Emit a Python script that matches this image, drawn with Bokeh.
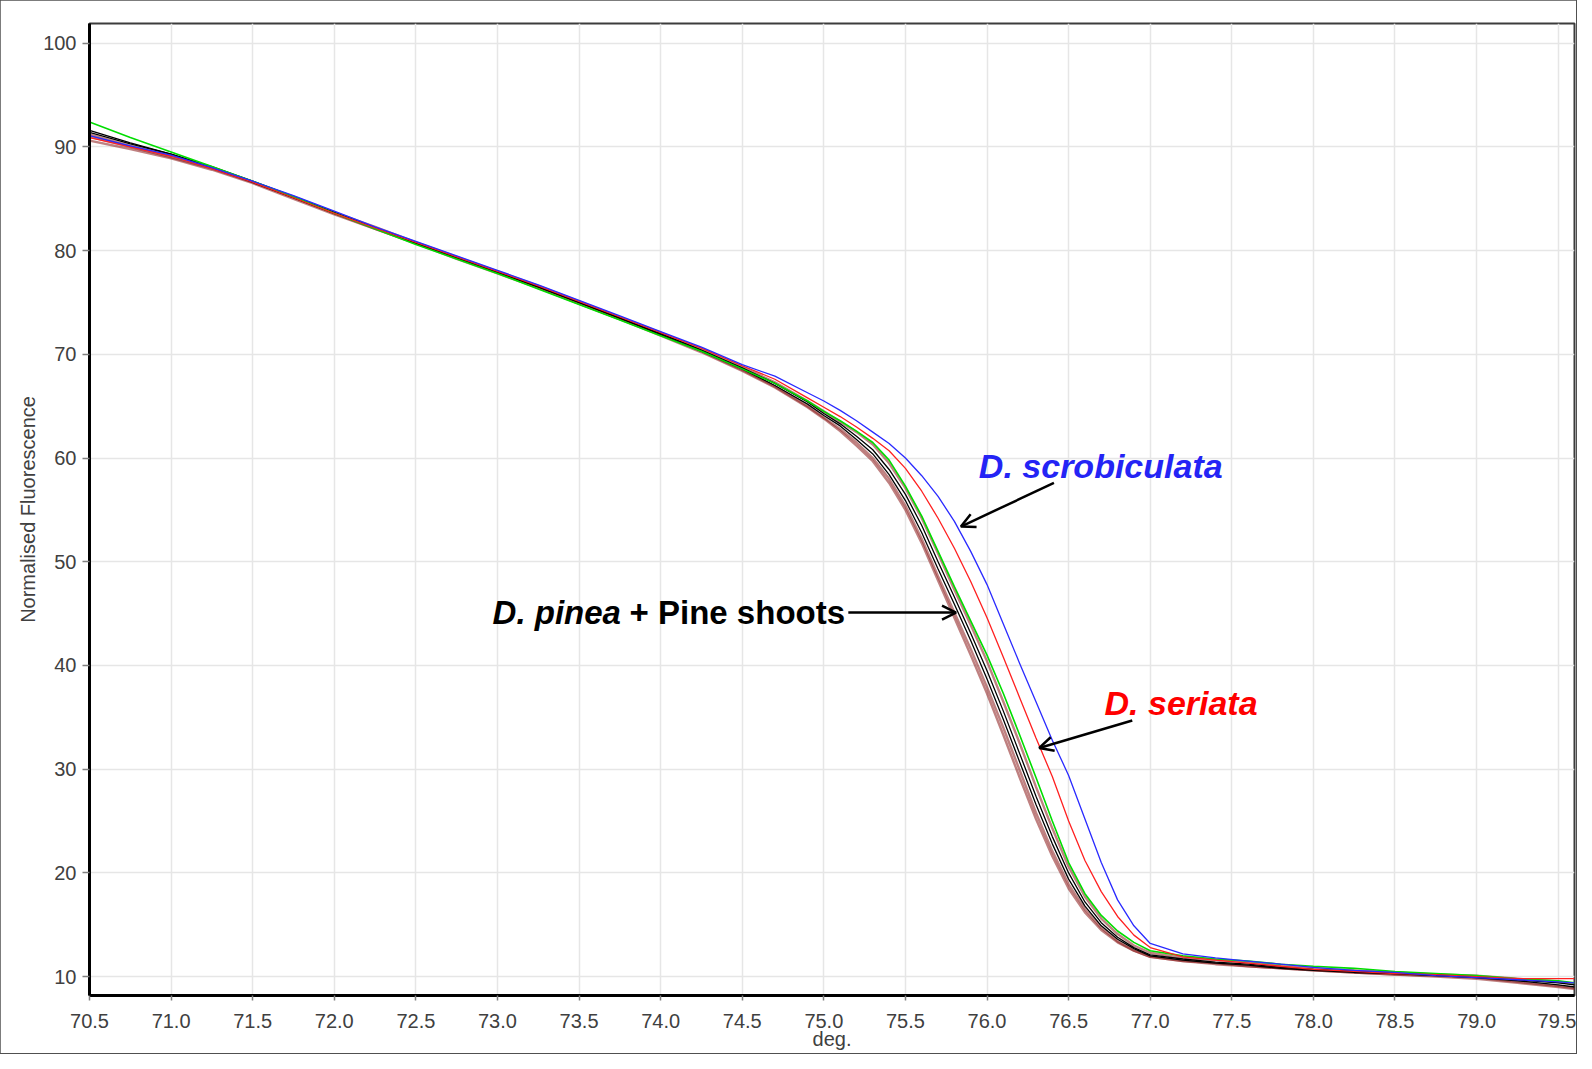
from bokeh.plotting import figure
from bokeh.models import Label, Arrow, OpenHead, FixedTicker, NumeralTickFormatter, Range1d
from bokeh.embed import file_html
from bokeh.resources import INLINE

# ---------------- data ----------------
temps = [70.5, 70.75, 71.0, 71.25, 71.5, 71.75, 72.0, 72.25, 72.5, 72.75, 73.0, 73.25,
         73.5, 73.75, 74.0, 74.25, 74.5, 74.7, 74.9, 75.0, 75.1, 75.2, 75.3, 75.4, 75.5,
         75.6, 75.7, 75.8, 75.9, 76.0, 76.1, 76.2, 76.3, 76.4, 76.5, 76.6, 76.7, 76.8,
         76.9, 77.0, 77.2, 77.4, 77.6, 77.8, 78.0, 78.25, 78.5, 78.75, 79.0, 79.25, 79.5, 79.6]

pinea_1 = [91.4, 90.3, 89.3, 88.0, 86.6, 85.1, 83.6, 82.2, 80.7, 79.3, 77.9, 76.5, 75.0, 73.5,
           72.0, 70.4, 68.7, 67.2, 65.4, 64.3, 63.3, 62.1, 60.8, 58.9, 56.5, 53.5, 50.0, 46.6,
           43.1, 39.5, 35.6, 31.5, 27.4, 23.5, 20.0, 17.2, 15.2, 13.8, 12.8, 12.1, 11.7, 11.4,
           11.2, 10.9, 10.7, 10.5, 10.3, 10.2, 10.0, 9.7, 9.4, 9.2]
pinea_2 = [91.6, 90.4, 89.3, 88.1, 86.7, 85.2, 83.7, 82.2, 80.8, 79.3, 77.9, 76.5, 75.0, 73.5,
           71.9, 70.3, 68.6, 67.0, 65.2, 64.1, 63.1, 61.8, 60.4, 58.4, 55.9, 52.8, 49.3, 45.9,
           42.4, 38.7, 34.8, 30.7, 26.6, 22.8, 19.4, 16.8, 14.9, 13.6, 12.7, 12.0, 11.6, 11.3,
           11.1, 10.8, 10.6, 10.4, 10.3, 10.1, 9.9, 9.6, 9.2, 9.0]
pinea_3 = [90.6, 89.8, 88.9, 87.8, 86.5, 85.0, 83.5, 82.1, 80.7, 79.3, 77.9, 76.4, 74.9, 73.4,
           71.8, 70.2, 68.4, 66.8, 64.9, 63.8, 62.6, 61.2, 59.7, 57.6, 55.0, 51.8, 48.2, 44.6,
           41.0, 37.3, 33.3, 29.2, 25.2, 21.6, 18.5, 16.2, 14.5, 13.3, 12.5, 11.9, 11.5, 11.2,
           11.0, 10.8, 10.6, 10.4, 10.2, 10.0, 9.8, 9.4, 9.0, 8.8]
pinea_4 = [91.2, 90.1, 89.2, 88.0, 86.6, 85.2, 83.7, 82.3, 80.8, 79.4, 78.0, 76.6, 75.1, 73.6,
           72.1, 70.5, 68.8, 67.3, 65.5, 64.5, 63.5, 62.5, 61.3, 59.5, 57.1, 54.2, 50.8, 47.3,
           43.9, 40.4, 36.5, 32.5, 28.3, 24.3, 20.6, 17.7, 15.6, 14.1, 13.0, 12.3, 11.8, 11.6,
           11.4, 11.0, 10.8, 10.6, 10.4, 10.2, 10.1, 9.8, 9.5, 9.3]
pinea_5 = [91.0, 90.0, 89.0, 87.9, 86.6, 85.1, 83.6, 82.1, 80.7, 79.2, 77.8, 76.4, 74.9, 73.4,
           71.9, 70.3, 68.5, 66.9, 65.0, 63.9, 62.8, 61.5, 60.0, 58.0, 55.4, 52.2, 48.6, 45.1,
           41.6, 37.9, 34.0, 29.9, 25.8, 22.1, 18.9, 16.5, 14.7, 13.4, 12.5, 11.9, 11.5, 11.3,
           11.0, 10.8, 10.6, 10.4, 10.2, 10.1, 9.9, 9.5, 9.1, 8.9]
pine_shoots = [92.4, 90.9, 89.5, 88.1, 86.7, 85.2, 83.6, 82.1, 80.6, 79.2, 77.8, 76.3, 74.8, 73.3,
               71.8, 70.3, 68.6, 67.2, 65.5, 64.5, 63.6, 62.6, 61.5, 59.8, 57.3, 54.4, 51.0, 47.6,
               44.3, 41.0, 37.3, 33.3, 29.2, 25.0, 21.0, 18.0, 15.9, 14.4, 13.3, 12.5, 12.0, 11.7,
               11.5, 11.2, 11.0, 10.8, 10.5, 10.3, 10.1, 9.8, 9.6, 9.4]
seriata = [90.9, 90.0, 89.1, 87.9, 86.6, 85.1, 83.6, 82.2, 80.8, 79.4, 78.0, 76.6, 75.1, 73.6,
           72.1, 70.6, 68.9, 67.6, 65.8, 64.9, 64.0, 63.0, 61.9, 60.7, 59.0, 56.8, 54.2, 51.3,
           48.1, 44.6, 40.8, 36.9, 33.0, 29.3, 25.0, 21.2, 18.2, 15.8, 14.0, 12.8, 11.9, 11.6,
           11.3, 11.0, 10.7, 10.5, 10.3, 10.2, 10.0, 9.8, 9.8, 9.8]
scrobiculata = [91.1, 90.1, 89.2, 88.0, 86.7, 85.3, 83.8, 82.3, 80.9, 79.5, 78.1, 76.7, 75.2, 73.7,
                72.2, 70.7, 69.0, 67.9, 66.3, 65.5, 64.6, 63.6, 62.5, 61.4, 60.0, 58.3, 56.3, 53.9,
                51.0, 47.8, 44.0, 40.2, 36.5, 32.8, 29.4, 25.2, 21.0, 17.4, 14.9, 13.2, 12.2, 11.8,
                11.5, 11.2, 10.9, 10.6, 10.4, 10.1, 9.9, 9.7, 9.5, 9.4]

x_ticks = [70.5, 71.0, 71.5, 72.0, 72.5, 73.0, 73.5, 74.0, 74.5, 75.0, 75.5, 76.0, 76.5, 77.0,
           77.5, 78.0, 78.5, 79.0, 79.5]
y_ticks = [10, 20, 30, 40, 50, 60, 70, 80, 90, 100]

FONT = "Liberation Sans"

p = figure(width=1576, height=1053, output_backend="svg", toolbar_location=None,
           x_range=Range1d(70.5, 79.6), y_range=Range1d(8.18, 101.9),
           min_border_left=89, min_border_right=2, min_border_top=23, min_border_bottom=58)
p.styles = {"outline": "2px solid #505050", "outline-offset": "-1px"}

p.background_fill_color = "white"
p.border_fill_color = "white"
p.outline_line_color = "#3c3c3c"
p.outline_line_width = 2

p.xgrid.grid_line_color = "#e6e6e6"
p.ygrid.grid_line_color = "#e6e6e6"
p.xgrid.grid_line_width = 1.5
p.ygrid.grid_line_width = 1.5

p.xaxis.ticker = FixedTicker(ticks=x_ticks)
p.yaxis.ticker = FixedTicker(ticks=y_ticks)
p.xaxis.formatter = NumeralTickFormatter(format="0.0")
p.xaxis.minor_tick_line_color = None
p.yaxis.minor_tick_line_color = None

for ax in (p.xaxis[0], p.yaxis[0]):
    ax.axis_line_color = "black"
    ax.axis_line_width = 3
    ax.major_tick_line_color = "#808080"
    ax.major_tick_line_width = 1.5
    ax.major_tick_in = 0
    ax.major_label_text_font = FONT
    ax.major_label_text_font_size = "20px"
    ax.major_label_text_color = "#404040"
    ax.axis_label_text_font = FONT
    ax.axis_label_text_font_style = "normal"
    ax.axis_label_text_color = "#404040"
    ax.axis_label_text_font_size = "20px"

p.xaxis.major_tick_out = 5
p.xaxis.major_label_standoff = 13
p.xaxis.axis_label = "deg."
p.xaxis.axis_label_standoff = -3
p.yaxis.major_tick_out = 7
p.yaxis.major_label_standoff = 6
p.yaxis.axis_label = "Normalised Fluorescence"
p.yaxis.axis_label_standoff = 1

# curves
for ys in (pinea_3, pinea_5, pinea_4):
    p.line(temps, ys, line_color="#8b1a1a", line_width=2.4, line_alpha=0.55)
for ys in (pinea_2, pinea_1):
    p.line(temps, ys, line_color="#000000", line_width=1.3)
p.line(temps, pine_shoots, line_color="#00dd00", line_width=1.6)
p.line(temps, seriata, line_color="#ff2020", line_width=1.3)
p.line(temps, scrobiculata, line_color="#2a2aff", line_width=1.3)

# annotations
p.add_layout(Label(x=75.95, y=59.2, text="D. scrobiculata", text_color="#2424f5",
                   text_font=FONT, text_font_size="34px", text_font_style="bold italic",
                   text_baseline="middle", text_align="left"))
p.add_layout(Label(x=76.72, y=36.4, text="D. seriata", text_color="#ff0000",
                   text_font=FONT, text_font_size="34px", text_font_style="bold italic",
                   text_baseline="middle", text_align="left"))
p.add_layout(Label(x=72.97, y=45.1, text="D. pinea", text_color="#000000",
                   text_font=FONT, text_font_size="33px", text_font_style="bold italic",
                   text_baseline="middle", text_align="left"))
p.add_layout(Label(x=72.97, y=45.1, x_offset=137, text="+ Pine shoots", text_color="#000000",
                   text_font=FONT, text_font_size="33px", text_font_style="bold",
                   text_baseline="middle", text_align="left"))

p.add_layout(Arrow(end=OpenHead(size=14, line_width=2.5, line_color="black"),
                   x_start=76.41, y_start=57.6, x_end=75.84, y_end=53.4,
                   line_width=2.5, line_color="black"))
p.add_layout(Arrow(end=OpenHead(size=14, line_width=2.5, line_color="black"),
                   x_start=76.89, y_start=34.7, x_end=76.32, y_end=32.05,
                   line_width=2.5, line_color="black"))
p.add_layout(Arrow(end=OpenHead(size=14, line_width=2.5, line_color="black"),
                   x_start=75.15, y_start=45.1, x_end=75.81, y_end=45.1,
                   line_width=2.5, line_color="black"))

open("out.html", "w").write(file_html(p, INLINE))
